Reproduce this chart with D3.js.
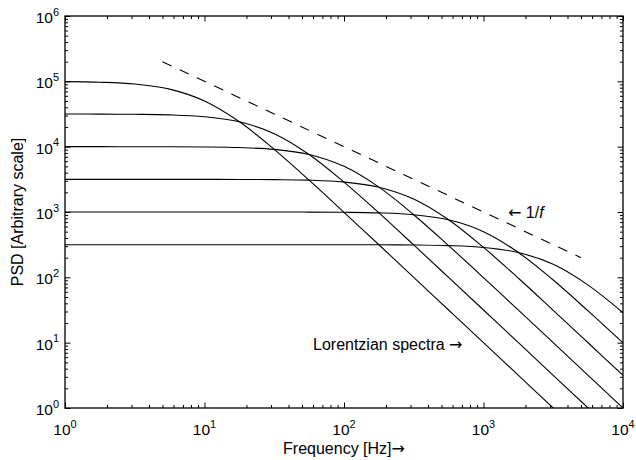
<!DOCTYPE html>

<head>
    <meta charset="utf-8">
    <style>
        html,
        body {
            margin: 0;
            padding: 0;
            background: #fff;
        }

        svg {
            display: block;
            font-family: "Liberation Sans", Arial, sans-serif;
        }

        .curve {
            fill: none;
            stroke: black;
            stroke-width: 1.1px;
        }

        .axis path,
        .axis line {
            stroke: black;
        }

        .axis .domain {
            display: none;
        }

        .arrow {
            font-family: "DejaVu Sans", sans-serif;
        }
    </style>
    <script src="https://cdn.jsdelivr.net/npm/d3@7"></script>
</head>

<body>
    <div id="chart"></div>

    <script>
        // quarter-decade frequency grid
        var freq = [1, 1.78, 3.16, 5.62, 10, 17.8, 31.6, 56.2, 100, 178, 316, 562, 1000, 1780, 3160, 5620, 10000];

        var psd1 = [99000, 96900, 90900, 76000, 50000, 24000, 9090, 3070, 990, 315, 99.9, 31.6, 10.0, 3.16, 1.00, 0.316, 0.100];
        var psd2 = [31600, 31500, 31300, 30700, 28700, 24000, 15800, 7600, 2870, 969, 313, 99.7, 31.6, 10.0, 3.16, 1.00, 0.316];
        var psd3 = [10000, 10000, 9990, 9970, 9900, 9690, 9090, 7600, 5000, 2400, 909, 306, 99.0, 31.5, 10.0, 3.16, 1.00];
        var psd4 = [3160, 3160, 3160, 3160, 3160, 3150, 3130, 3070, 2870, 2400, 1580, 760, 287, 96.9, 31.3, 9.97, 3.16];
        var psd5 = [1000, 1000, 1000, 1000, 1000, 1000, 999, 997, 990, 969, 909, 760, 500, 240, 90.9, 30.6, 9.90];
        var psd6 = [316, 316, 316, 316, 316, 316, 316, 316, 316, 315, 313, 306, 287, 240, 158, 76.0, 28.7];

        // the 1/f guide line
        var guideF = [5, 5000];
        var guideV = [200000, 200];

        var xExp = [0, 1, 2, 3, 4];
        var yExp = [0, 1, 2, 3, 4, 5, 6];

        var width = 636,
            height = 460,
            margin = { top: 16, right: 13, bottom: 52, left: 65 };

        var x = d3.scaleLog()
            .domain([1, 1e4])
            .range([margin.left, width - margin.right]);

        var y = d3.scaleLog()
            .domain([1, 1e6])
            .range([height - margin.bottom, margin.top]);

        var svg = d3.select("#chart").append("svg")
            .attr("width", width)
            .attr("height", height);

        svg.append("clipPath")
            .attr("id", "clip")
            .append("rect")
            .attr("x", margin.left)
            .attr("y", margin.top)
            .attr("width", width - margin.left - margin.right)
            .attr("height", height - margin.top - margin.bottom);

        // minor ticks: 2..9 of every decade
        function minors(lo, hi) {
            var out = [];
            for (var e = lo; e < hi; e++) {
                for (var m = 2; m < 10; m++) out.push(m * Math.pow(10, e));
            }
            return out;
        }

        var xMajor = xExp.map(function (e) { return Math.pow(10, e); }),
            yMajor = yExp.map(function (e) { return Math.pow(10, e); });

        var majorLen = 5.5,
            minorLen = 3;

        var x0 = margin.left,
            x1 = width - margin.right,
            y0 = height - margin.bottom,
            y1 = margin.top;

        // ticks on all four sides, pointing inwards
        [
            [d3.axisBottom(x), y0, xMajor, minors(0, 4), "x"],
            [d3.axisTop(x), y1, xMajor, minors(0, 4), "x"],
            [d3.axisLeft(y), x0, yMajor, minors(0, 6), "y"],
            [d3.axisRight(y), x1, yMajor, minors(0, 6), "y"]
        ].forEach(function (a) {
            var pos = a[4] === "x" ? "translate(0," + a[1] + ")" : "translate(" + a[1] + ",0)";
            svg.append("g")
                .attr("class", "axis")
                .attr("transform", pos)
                .call(a[0].tickValues(a[2]).tickSize(-majorLen).tickFormat(""));
            svg.append("g")
                .attr("class", "axis")
                .attr("transform", pos)
                .call(a[0].tickValues(a[3]).tickSize(-minorLen).tickFormat(""));
        });

        // plot box
        svg.append("rect")
            .attr("x", x0)
            .attr("y", y1)
            .attr("width", x1 - x0)
            .attr("height", y0 - y1)
            .attr("fill", "none")
            .attr("stroke", "black")
            .attr("stroke-width", 1.3);

        // tick labels 10^n
        var xl = svg.append("g").selectAll("text")
            .data(xExp)
            .enter().append("text")
            .attr("x", function (d) { return x(Math.pow(10, d)); })
            .attr("y", y0 + 27)
            .attr("text-anchor", "middle")
            .style("font-size", "15.5px");
        xl.append("tspan").text("10");
        xl.append("tspan")
            .attr("dy", -7.5)
            .style("font-size", "11px")
            .text(function (d) { return d; });

        var yl = svg.append("g").selectAll("text")
            .data(yExp)
            .enter().append("text")
            .attr("x", x0 - 6)
            .attr("y", function (d) { return y(Math.pow(10, d)) + 7; })
            .attr("text-anchor", "end")
            .style("font-size", "15.5px");
        yl.append("tspan").text("10");
        yl.append("tspan")
            .attr("dy", -7.5)
            .style("font-size", "11px")
            .text(function (d) { return d; });

        // curves
        var line = d3.line()
            .x(function (d) { return x(d[0]); })
            .y(function (d) { return y(d[1]); })
            .curve(d3.curveCatmullRom);

        var plot = svg.append("g").attr("clip-path", "url(#clip)");

        [psd1, psd2, psd3, psd4, psd5, psd6].forEach(function (s) {
            plot.append("path")
                .attr("class", "curve")
                .attr("d", line(freq.map(function (f, i) { return [f, s[i]]; })));
        });

        plot.append("path")
            .attr("class", "curve")
            .attr("stroke-dasharray", "10,9")
            .attr("d", line(guideF.map(function (f, i) { return [f, guideV[i]]; })));

        // annotations
        var lor = svg.append("text")
            .attr("x", 313)
            .attr("y", 350)
            .style("font-size", "16px");
        lor.append("tspan").text("Lorentzian spectra ");
        lor.append("tspan").attr("class", "arrow").text("\u2192");

        var ann = svg.append("text")
            .attr("x", 508)
            .attr("y", 218)
            .style("font-size", "16px");
        ann.append("tspan").attr("class", "arrow").text("\u2190");
        ann.append("tspan").text(" 1/");
        ann.append("tspan").style("font-style", "italic").text("f");

        // axis titles
        var xt = svg.append("text")
            .attr("x", (x0 + x1) / 2)
            .attr("y", 454)
            .attr("text-anchor", "middle")
            .style("font-size", "16px");
        xt.append("tspan").text("Frequency [Hz]");
        xt.append("tspan").attr("class", "arrow").text("\u2192");

        svg.append("text")
            .attr("transform", "translate(23," + ((y0 + y1) / 2) + ") rotate(-90)")
            .attr("text-anchor", "middle")
            .style("font-size", "16px")
            .text("PSD [Arbitrary scale]");
    </script>
</body>
